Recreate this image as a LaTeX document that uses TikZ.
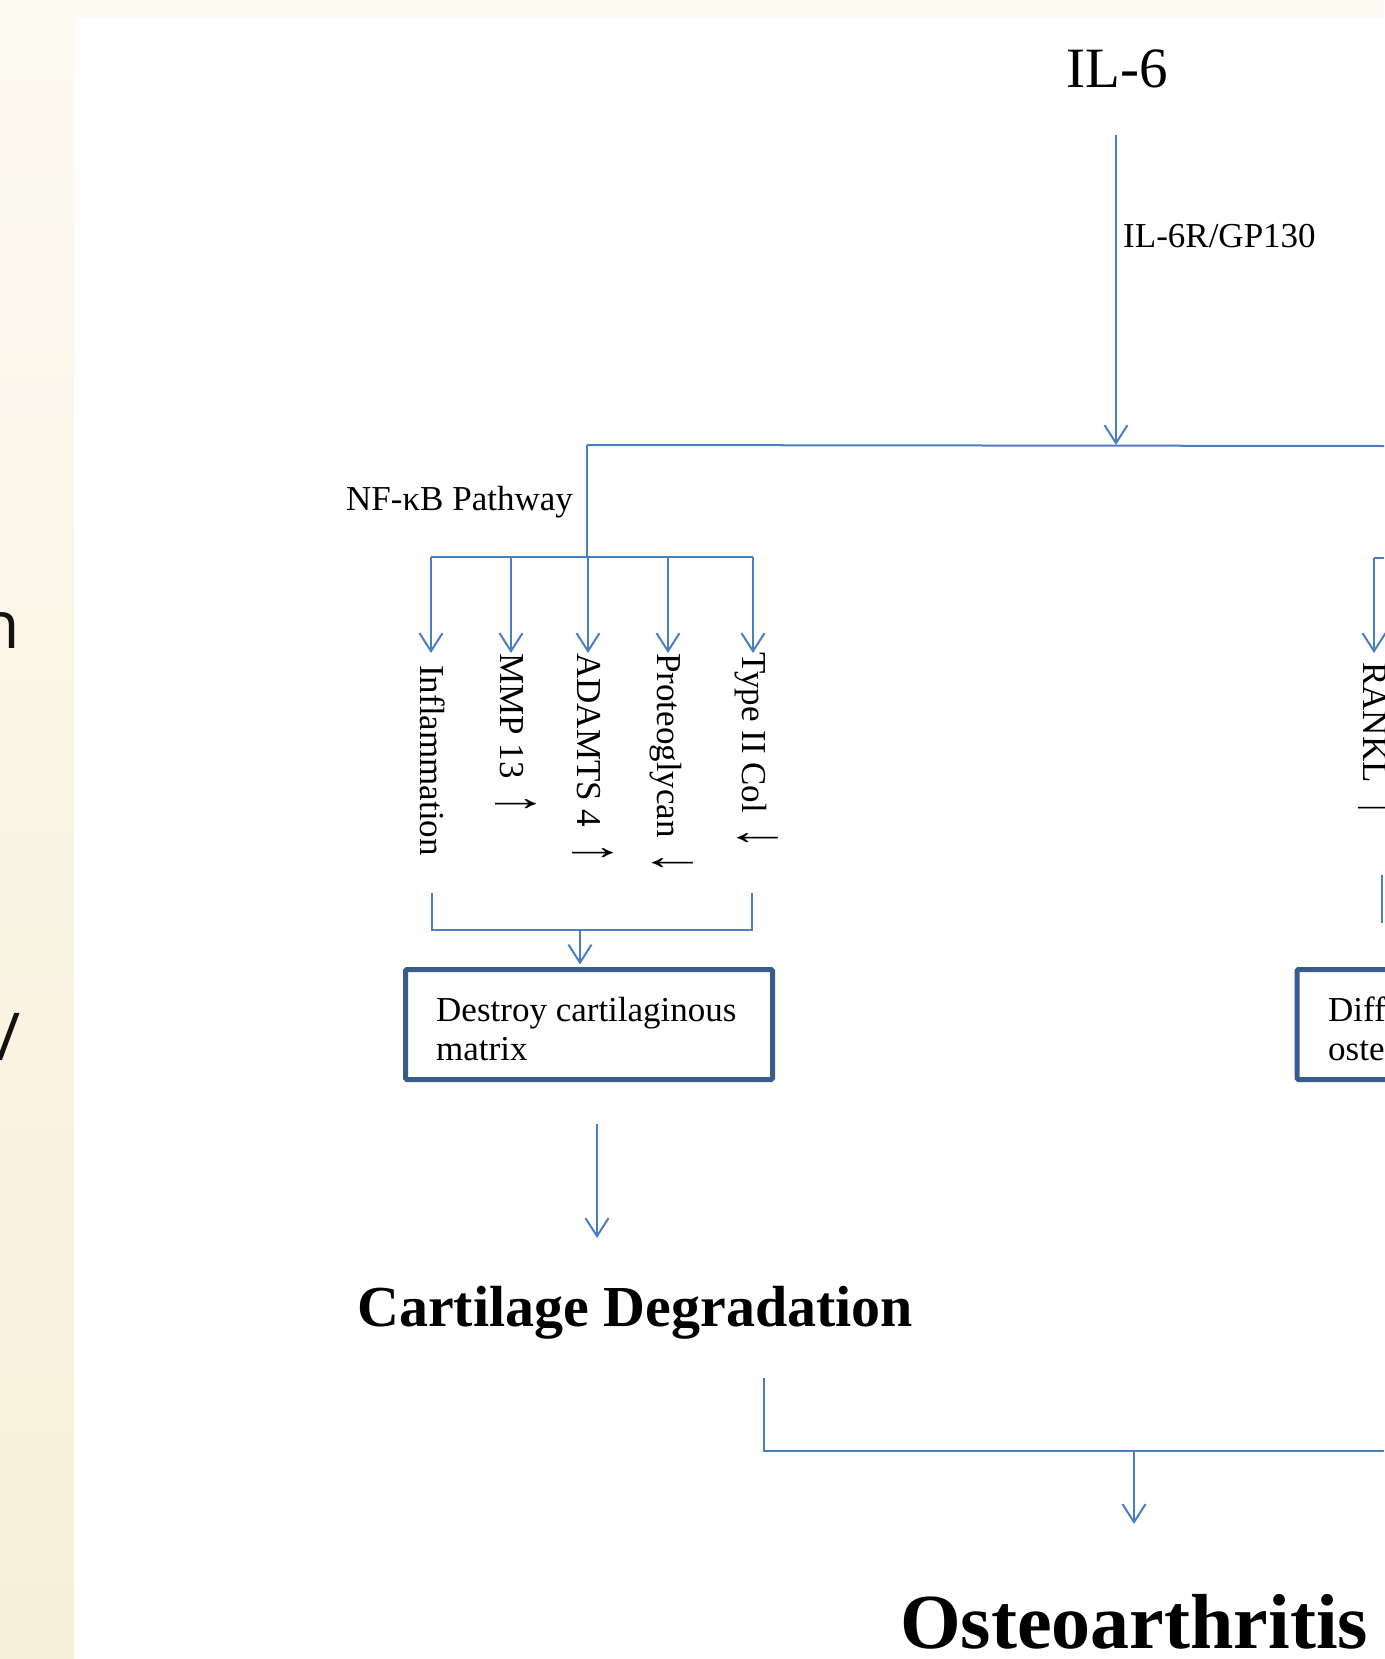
\documentclass[tikz,border=0pt]{standalone}
\usepackage{fontspec}
\setmainfont{Liberation Serif}
\newfontfamily\sansf{Open Sans}
\usetikzlibrary{arrows.meta}
\definecolor{lineblue}{RGB}{74,126,193}
\definecolor{boxblue}{RGB}{56,93,138}
\definecolor{creamtop}{RGB}{253,250,242}
\definecolor{creambot}{RGB}{248,239,216}
\newcommand{\fsm}{\fontsize{35}{42}\selectfont}
\newcommand{\uparr}{\hspace{0.45em}\raisebox{-0.14em}{\resizebox{0.55em}{1.17em}{\raisebox{\depth}{↑}}}}
\newcommand{\dnarr}{\hspace{0.45em}\raisebox{-0.14em}{\resizebox{0.55em}{1.17em}{\raisebox{\depth}{↓}}}}
\begin{document}
\begin{tikzpicture}[x=1pt,y=-1pt,
  conn/.style={draw=lineblue, line width=2pt},
  arr/.style={conn, -{Straight Barb[length=18pt,width=23pt,line width=2pt]}},
  lab/.style={font=\fsm, inner sep=0pt, anchor=base west},
  vlab/.style={font=\fsm, inner sep=0pt, anchor=base west, rotate=-90},
  boxst/.style={draw=boxblue, line width=5pt, rounded corners=1.5pt, minimum width=367pt, minimum height=110pt, inner sep=0pt}]
\useasboundingbox (0,0) rectangle (1384,1659);
% background
\fill[creamtop] (0,0) rectangle (1384,17);
\shade[top color=creamtop, bottom color=creambot] (0,0) rectangle (74,1659);
\fill[white] (74,17) rectangle (1384,1659);
% left strip fragments
\node[font=\sansf\fontsize{66}{80}\selectfont, inner sep=0pt, anchor=base east, text=black!93] (frn) at (20,648) {n};
\node[font=\sansf\fontsize{66}{80}\selectfont, inner sep=0pt, anchor=base east, text=black!93] (frs) at (21,1060) {/};
% top
\node[font=\fontsize{57}{68}\selectfont, inner sep=0pt, anchor=base] (il6) at (1117,87.5) {IL-6};
\coordinate (il6s) at (1116,135);
\coordinate (j1) at (1116,445);
\coordinate (h1l) at (587,445);
\coordinate (h1r) at (1384,446);
\draw[arr] (il6s) -- (j1);
\draw[conn] (h1l) -- (h1r);
\node[lab] (rec) at (1123,247) {IL-6R/GP130};
% NF-kB branch
\node[lab] (nfkb) at (346,510) {NF-κB Pathway};
\coordinate (j2) at (587,557);
\coordinate (h2l) at (431,557);
\coordinate (h2r) at (753,557);
\draw[conn] (h1l) -- (j2);
\draw[conn] (h2l) -- (h2r);
\foreach \n/\xx in {1/431,2/511,3/588,4/668,5/753}{
  \coordinate (s\n) at (\xx,557);
  \coordinate (e\n) at (\xx,653);
  \draw[arr] (s\n) -- (e\n);
}
\node[vlab] (inf) at (420,665) {Inflammation};
\node[vlab] (mmp) at (500,653) {MMP 13\uparr};
\node[vlab] (adam) at (577,653) {ADAMTS 4\uparr};
\node[vlab] (prot) at (657,653) {Proteoglycan\dnarr};
\node[vlab] (col) at (742,652) {Type II Col\dnarr};
% bracket to box
\coordinate (b1t) at (432,893);
\coordinate (b1b) at (432,930);
\coordinate (b2t) at (752,893);
\coordinate (b2b) at (752,930);
\coordinate (bm) at (580,930);
\draw[conn] (b1t) -- (b1b) -- (b2b) -- (b2t);
\node[boxst] (box) at (589,1024.5) {};
\draw[arr, shorten >=2.5pt] (bm) -- (bm |- box.north);
\node[inner sep=0pt, anchor=base west] (boxtxt) at (436,1021) {\parbox[t]{330pt}{\fsm\baselineskip=39pt Destroy cartilaginous\\matrix}};
% cartilage degradation
\coordinate (c1) at (597,1124);
\coordinate (c2) at (597,1238);
\draw[arr] (c1) -- (c2);
\node[font=\bfseries\fontsize{58}{70}\selectfont, inner sep=0pt, anchor=base west] (cd) at (357,1326) {Cartilage Degradation};
% bottom bracket
\coordinate (d1) at (764,1378);
\coordinate (d2) at (764,1451);
\coordinate (d3) at (1384,1451);
\coordinate (dm) at (1134,1451);
\coordinate (de) at (1134,1524);
\draw[conn] (d1) -- (d2) -- (d3);
\draw[arr] (dm) -- (de);
\node[font=\bfseries\fontsize{78}{94}\selectfont, inner sep=0pt, anchor=base west] (oa) at (900,1648) {Osteoarthritis};
% right branch (cut off)
\coordinate (r0) at (1384,558);
\coordinate (r1) at (1374,558);
\coordinate (r2) at (1374,653);
\draw[conn] (r0) -- (r1);
\draw[arr] (r1) -- (r2);
\node[vlab] (rankl) at (1363,662) {RANKL\uparr};
\coordinate (q1) at (1382,875);
\coordinate (q2) at (1382,923);
\draw[conn] (q1) -- (q2);
\node[boxst, anchor=west] (rbox) at (1294.5,1024.5) {};
\node[inner sep=0pt, anchor=base west] (rboxtxt) at (1328,1021) {\parbox[t]{200pt}{\fsm\baselineskip=39pt Diff\\oste}};
\end{tikzpicture}
\end{document}
